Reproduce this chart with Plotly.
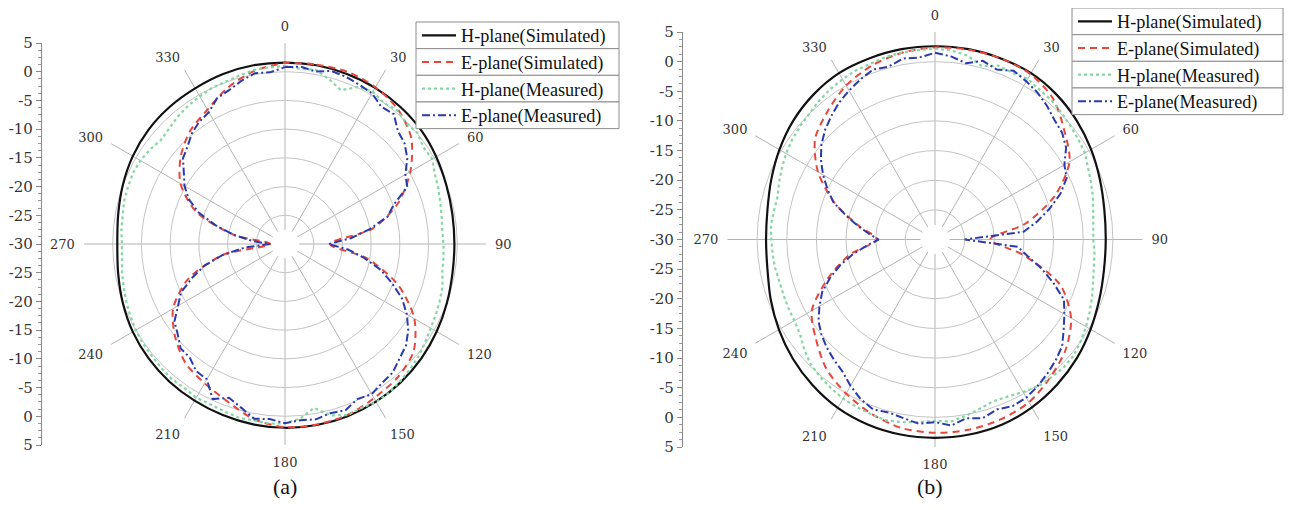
import plotly.graph_objects as go

# ---------------- data (dB) ----------------
ANGLES_SIM = list(range(0, 361, 10))
ANGLES_MEAS = list(range(0, 361, 5))

A_H_SIM = [1.6, 1.6, 1.5, 1.4, 1.2, 0.9, 0.4, -0.1, -0.4, -0.5, -0.4, 0.0, 0.5, 1.0, 1.4, 1.7, 1.9, 2.0, 2.0,
           1.9, 1.7, 1.5, 1.3, 1.0, 0.6, 0.05, -0.5, -0.8, -0.5, 0.05, 0.6, 1.0, 1.2, 1.3, 1.5, 1.6, 1.6]
A_E_SIM = [1.5, 1.7, 1.9, 1.5, 0.6, -1.3, -4.8, -9.0, -14.5, -22.2, -15.5, -9.0, -4.0, -0.8, 0.4, 1.0, 1.7, 1.9, 1.9,
           1.0, -0.8, -2.0, -3.0, -5.0, -7.5, -12.0, -19.0, -27.4, -21.0, -13.5, -9.0, -6.3, -4.3, -3.0, -1.0, 0.6, 1.5]
A_H_MEAS = [1.0, 0.6, 0.8, -0.3, -1.5, 0.2, 0.6, 0.0, 0.4, -0.2,
            0.1, -0.6, -0.4, -1.2, -1.6, -2.0, -2.3, -2.5, -2.4, -2.3,
            -2.2, -1.6, -1.3, -1.0, -0.7, -0.2, 0.4, 0.8, 1.2, 1.6,
            1.8, 1.5, 1.7, 0.9, -1.0, 0.5, 1.2, 1.4, 1.2, 1.3,
            1.0, 0.8, 0.9, 0.6, 0.7, 0.5, 0.3, 0.2, 0.0, -0.3,
            -0.6, -0.9, -1.2, -1.5, -1.6, -1.4, -1.3, -1.0, -0.9, -0.8,
            -0.9, -1.3, -1.8, -1.5, -1.0, -0.6, -0.3, 0.0, 0.1, 0.4,
            0.8, 0.9, 1.0]
A_E_MEAS = [0.8, 1.0, 0.5, 1.2, 1.0, 0.6, 0.3, -0.8, -0.5, -2.2,
            -2.8, -4.0, -5.8, -6.5, -9.8, -11.5, -15.0, -18.5, -22.4, -19.0,
            -16.0, -12.8, -10.2, -7.5, -5.5, -3.8, -2.5, -1.8, -0.8, -0.5,
            0.2, -0.2, 0.8, 0.5, 1.0, 0.8, 1.2, 0.6, 0.9, -0.5,
            -1.5, -0.2, -2.8, -3.0, -4.2, -4.3, -5.6, -6.5, -8.5, -10.0,
            -12.8, -15.5, -19.0, -23.0, -27.4, -24.5, -21.0, -17.5, -14.0, -11.5,
            -9.8, -8.5, -6.8, -6.0, -4.8, -4.0, -3.5, -2.0, -1.5, -0.6,
            0.2, 0.0, 0.8]

B_H_SIM = [2.6, 2.6, 2.5, 2.4, 1.9, 1.2, 0.4, -0.4, -1.0, -1.2, -1.05, -0.5, 0.3, 1.2, 2.0, 2.7, 3.2, 3.4, 3.45,
           3.4, 3.2, 2.8, 2.1, 1.3, 0.4, -0.5, -1.3, -1.5, -1.3, -0.6, 0.3, 1.2, 1.9, 2.4, 2.5, 2.6, 2.6]
B_E_SIM = [2.4, 2.5, 2.5, 2.2, 1.0, -1.5, -3.8, -8.5, -14.5, -20.7, -14.8, -7.5, -3.5, -1.2, 0.3, 1.7, 2.3, 2.6, 2.6,
           2.3, 1.3, 0.0, -1.5, -3.8, -6.0, -10.8, -15.4, -20.2, -17.0, -12.0, -7.2, -3.6, -1.8, 0.0, 1.2, 2.0, 2.4]
B_H_MEAS = [2.2, 2.0, 1.5, 0.3, 1.2, 1.0, 1.3, 0.8, 0.6, 0.2,
            -0.2, -0.5, -0.8, -1.5, -2.0, -2.4, -2.9, -3.2, -3.3, -3.0,
            -2.8, -2.4, -1.8, -1.2, -0.6, 0.0, 0.5, 0.6, 0.4, 0.3,
            -0.3, -0.8, -1.0, -0.5, 0.2, 0.8, 0.6, 0.9, 1.3, 1.6,
            1.4, 1.2, 1.0, 0.6, 0.2, -0.3, -1.2, -2.2, -2.6, -2.7,
            -2.8, -2.8, -2.6, -2.5, -2.4, -2.2, -2.4, -2.5, -2.0, -1.5,
            -1.0, -0.6, -0.3, 0.0, 0.5, 0.9, 1.2, 1.5, 1.6, 1.9,
            2.0, 2.1, 2.2]
B_E_MEAS = [1.5, 1.0, 0.2, 1.2, 0.5, 1.4, 0.8, 0.2, -0.6, -1.5,
            -2.0, -3.0, -4.8, -5.5, -7.5, -10.0, -12.5, -15.0, -25.0, -16.0,
            -14.2, -11.5, -8.8, -6.0, -4.8, -3.5, -2.0, -1.2, -0.5, 0.2,
            0.8, 1.0, 0.5, 1.2, 0.6, 1.5, 0.8, 1.2, 0.6, 0.2,
            0.5, -0.3, -1.5, -2.8, -3.5, -4.2, -5.0, -6.0, -7.5, -9.0,
            -11.2, -13.5, -16.0, -18.5, -20.5, -18.8, -16.8, -14.5, -11.8, -10.0,
            -8.2, -6.5, -5.0, -3.8, -2.8, -1.8, -1.0, -0.2, 0.5, 0.2,
            1.0, 0.8, 1.5]

SERIES_NAMES = ["H-plane(Simulated)", "E-plane(Simulated)", "H-plane(Measured)", "E-plane(Measured)"]

# ---------------- tick definitions ----------------
ANG_MAJOR = [0, 30, 60, 90, 120, 150, 180, 210, 240, 270, 300, 330]
ANG_MINOR = [0, 15, 30, 45, 60, 75, 90, 105, 120, 135, 150, 165, 180, 195, 210, 225, 240, 255,
             270, 285, 300, 315, 330, 345]
RING_MAJOR = [-25, -20, -15, -10, -5, 0, 5]
RING_MINOR = [-25, -22.5, -20, -17.5, -15, -12.5, -10, -7.5, -5, -2.5, 0, 2.5]
R_MAX = 5
R_CENTER = -30
AXIS_LABELS = [5, 0, -5, -10, -15, -20, -25, -30, -25, -20, -15, -10, -5, 0, 5]

HOLE = 0.07
R_MIN = R_CENTER + (R_MAX - R_CENTER) * HOLE

# page is shown with the browser's default 8px body margin
OFF = 8
W, H = 1276, 494
SERIF = "Liberation Serif"
TICKFONT = "DejaVu Serif"
LEG_FONT = 18.2
ITEM_H = LEG_FONT * 1.3 + 3

STYLES = [
    dict(color="#111111", width=2.2, dash="solid"),
    dict(color="#e8463c", width=2.0, dash="7px,5px"),
    dict(color="#86d6a4", width=2.2, dash="dot"),
    dict(color="#2a3bb0", width=2.0, dash="8px,3px,2px,3px"),
]


def fx(px):
    return (px - OFF) / W


def fy(py):
    return 1 - (py - OFF) / H


panels = [
    dict(cx=285, cy=244, rad=201, axis_x=42,
         data=[(ANGLES_SIM, A_H_SIM), (ANGLES_SIM, A_E_SIM), (ANGLES_MEAS, A_H_MEAS), (ANGLES_MEAS, A_E_MEAS)],
         box_l=416, box_r=619, box_top=22, caption="(a)", cap_x=285),
    dict(cx=935, cy=239.5, rad=207.5, axis_x=683,
         data=[(ANGLES_SIM, B_H_SIM), (ANGLES_SIM, B_E_SIM), (ANGLES_MEAS, B_H_MEAS), (ANGLES_MEAS, B_E_MEAS)],
         box_l=1072, box_r=1283, box_top=8, caption="(b)", cap_x=930),
]

fig = go.Figure()
layout = dict(
    width=W, height=H, margin=dict(l=0, r=0, t=0, b=0, pad=0, autoexpand=False), showlegend=True,
    paper_bgcolor="white", plot_bgcolor="white",
    font=dict(family=SERIF, color="#222"),
    annotations=[], shapes=[],
)

for p_i, p in enumerate(panels):
    xd = [fx(p["cx"] - p["rad"]), fx(p["cx"] + p["rad"])]
    yd = [fy(p["cy"] + p["rad"]), fy(p["cy"] - p["rad"])]
    base_name = "polar" if p_i == 0 else f"polar{2 * p_i + 1}"
    top_name = f"polar{2 * p_i + 2}"
    layout[base_name] = dict(
        domain=dict(x=xd, y=yd), bgcolor="white", hole=HOLE,
        radialaxis=dict(range=[R_MIN, R_MAX], tickvals=RING_MINOR, showticklabels=False, ticks="",
                        showline=False, gridcolor="#ececec", gridwidth=1),
        angularaxis=dict(rotation=90, direction="clockwise", tickvals=ANG_MINOR, showticklabels=False,
                         ticks="", showline=False, gridcolor="#dedede", gridwidth=1),
    )
    layout[top_name] = dict(
        domain=dict(x=xd, y=yd), bgcolor="rgba(0,0,0,0)", hole=HOLE,
        radialaxis=dict(range=[R_MIN, R_MAX], tickvals=RING_MAJOR, showticklabels=False, ticks="",
                        showline=False, gridcolor="#c4c4c4", gridwidth=1),
        angularaxis=dict(rotation=90, direction="clockwise", tickvals=ANG_MAJOR,
                         ticktext=[str(a) for a in ANG_MAJOR],
                         showline=False, gridcolor="#b4b4b4", gridwidth=1,
                         ticks="outside", ticklen=6, tickcolor="rgba(0,0,0,0)",
                         tickfont=dict(family=TICKFONT, size=13, color="#333")),
    )

    # left linear axis that repeats the radial scale (top -> centre -> bottom)
    xa = "xaxis" if p_i == 0 else "xaxis2"
    ya = "yaxis" if p_i == 0 else "yaxis2"
    xref = "x" if p_i == 0 else "x2"
    yref = "y" if p_i == 0 else "y2"
    half = (len(AXIS_LABELS) - 1) // 2
    positions = [(lab - R_CENTER) if i < half else (-(lab - R_CENTER) if i > half else 0)
                 for i, lab in enumerate(AXIS_LABELS)]
    layout[xa] = dict(domain=[fx(p["axis_x"]), fx(p["axis_x"] + 2)], visible=False,
                      anchor=yref, range=[0, 1], fixedrange=True)
    layout[ya] = dict(domain=yd, anchor=xref, range=[-(R_MAX - R_CENTER), R_MAX - R_CENTER],
                      tickmode="array", tickvals=positions,
                      ticktext=[str(v) for v in AXIS_LABELS],
                      showline=True, linecolor="#8a8a8a", linewidth=1.2,
                      ticks="outside", ticklen=5, tickcolor="#8a8a8a",
                      minor=dict(tickmode="linear", tick0=0, dtick=1.25, ticks="outside", ticklen=3,
                                 tickcolor="#9a9a9a"),
                      showgrid=False, zeroline=False, fixedrange=True,
                      tickfont=dict(family=TICKFONT, size=15, color="#333"))
    fig.add_trace(go.Scatter(x=[None], y=[None], xaxis=xref, yaxis=yref, showlegend=False,
                             hoverinfo="skip", mode="lines"))

    lname = "legend" if p_i == 0 else "legend2"
    for s_i, ((ang, vals), name, st) in enumerate(zip(p["data"], SERIES_NAMES, STYLES)):
        fig.add_trace(go.Scatterpolar(
            r=vals, theta=ang, mode="lines", name=name, subplot=top_name, legend=lname,
            line=dict(color=st["color"], width=st["width"], dash=st["dash"],
                      shape="spline" if s_i < 2 else "linear", smoothing=0.8),
        ))
        # framed box behind each legend entry
        top = p["box_top"] + s_i * ITEM_H
        layout["shapes"].append(dict(
            type="rect", xref="paper", yref="paper", layer="above",
            x0=fx(p["box_l"]), x1=fx(p["box_r"]), y0=fy(top + ITEM_H), y1=fy(top),
            fillcolor="white", line=dict(color="#8c8c8c", width=1)))
    layout[lname] = dict(
        x=fx(p["box_l"] + 1), y=fy(p["box_top"] - 5), xanchor="left", yanchor="top",
        bgcolor="rgba(0,0,0,0)", borderwidth=0,
        font=dict(family=SERIF, size=LEG_FONT, color="#111"), itemwidth=34,
        tracegroupgap=0,
    )

    layout["annotations"].append(dict(
        text=p["caption"], x=fx(p["cap_x"]), y=fy(501), xref="paper", yref="paper",
        showarrow=False, xanchor="center", yanchor="bottom",
        font=dict(family=SERIF, size=22, color="#111")))

fig.update_layout(**layout)
fig.write_html("out.html")
